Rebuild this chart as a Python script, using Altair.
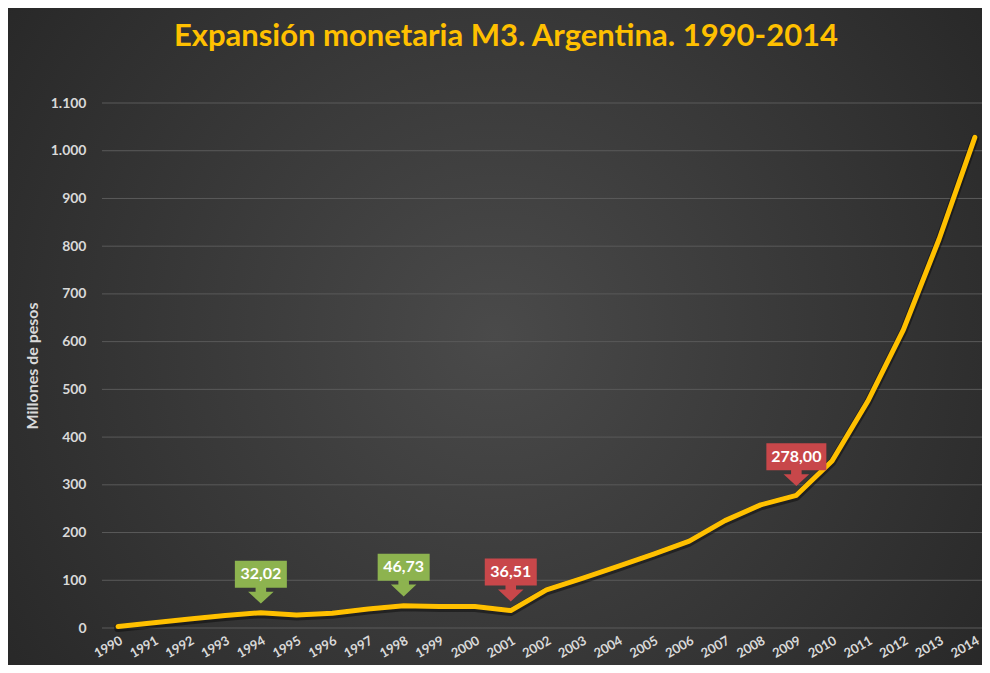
import altair as alt
import pandas as pd

# ---- data ----
years = [1990, 1991, 1992, 1993, 1994, 1995, 1996, 1997, 1998, 1999, 2000, 2001,
         2002, 2003, 2004, 2005, 2006, 2007, 2008, 2009, 2010, 2011, 2012, 2013, 2014]
m3 = [3, 11, 19, 26, 32.02, 27, 31, 40, 46.73, 45, 45, 36.51,
      80, 104, 129, 155, 182, 225, 258, 278.00, 350, 475, 625, 815, 1028]

callout_years = [1994, 1998, 2001, 2009]
callout_labels = ["32,02", "46,73", "36,51", "278,00"]
callout_kind = ["sube", "sube", "baja", "baja"]

y_ticks = [0, 100, 200, 300, 400, 500, 600, 700, 800, 900, 1000, 1100]

df = pd.DataFrame({"year": years, "m3": m3})
cdf = pd.DataFrame({"year": callout_years, "label": callout_labels, "kind": callout_kind})
cdf = cdf.merge(df, on="year", how="left")
gdf = pd.DataFrame({"m3": y_ticks})

FONT = "Lato"
LABEL_COL = "#d9d9d9"

xscale = alt.Scale(domain=[1989.55, 2014.2], nice=False, zero=False)
yscale = alt.Scale(domain=[0, 1100], nice=False)

x_axis = alt.Axis(values=years, format="d", labelAngle=-30, labelAlign="right",
                  labelBaseline="top", labelPadding=6, ticks=False, domain=False,
                  grid=False, labelOverlap=False, labelFont=FONT, labelFontSize=13,
                  labelFontWeight="bold", labelColor=LABEL_COL, zindex=1)
y_axis = alt.Axis(values=y_ticks,
                  labelExpr="replace(format(datum.value, ','), ',', '.')",
                  labelFont=FONT, labelFontSize=14, labelFontWeight="bold",
                  labelColor=LABEL_COL, labelPadding=16, ticks=False, domain=False,
                  grid=False, zindex=1,
                  titleFont=FONT, titleFontSize=16, titleFontWeight="bold",
                  titleColor=LABEL_COL, titlePadding=10)
x_enc = alt.X("year:Q", scale=xscale, axis=x_axis, title=None)
y_enc = alt.Y("m3:Q", scale=yscale, axis=y_axis, title="Millones de pesos")

# background: radial gradient spanning the whole chart area
bg = alt.Chart(pd.DataFrame({"a": [0]})).mark_rect(
    fill=alt.RadialGradient(gradient="radial", x1=0.5, y1=0.5, r1=0, x2=0.5, y2=0.5, r2=0.72,
                            stops=[alt.GradientStop(offset=0, color="#4a4a4a"),
                                   alt.GradientStop(offset=1, color="#222222")])
).encode(x=alt.value(-94), x2=alt.value(880), y=alt.value(-95), y2=alt.value(562))

grid = alt.Chart(gdf).mark_rule(color="#5a5a5a", strokeWidth=1).encode(
    y=y_enc, x=alt.value(0), x2=alt.value("width"))

base = alt.Chart(df)

shadow = base.mark_line(color="#000000", opacity=0.4, strokeWidth=8, yOffset=1.5,
                        strokeCap="round", strokeJoin="round").encode(x=x_enc, y=y_enc)
line = base.mark_line(color="#FFC000", strokeWidth=5, strokeCap="round",
                      strokeJoin="round").encode(x=x_enc, y=y_enc)

color_enc = alt.Color("kind:N", scale=alt.Scale(domain=["sube", "baja"],
                                                 range=["#8DB34F", "#C8474A"]), legend=None)

cbase = alt.Chart(cdf)
arrow_path = ("M-0.6,-1 L0.6,-1 L0.6,-0.35 L1.45,-0.35 L0,1 L-1.45,-0.35 "
              "L-0.6,-0.35 Z")
arrows = cbase.mark_point(shape=arrow_path, filled=True, opacity=1, size=310,
                          yOffset=-18, strokeWidth=0).encode(
    x=x_enc, y=y_enc, color=color_enc)
boxes_small = cbase.transform_filter("length(datum.label) <= 5").mark_rect(
    width=52, height=27, yOffset=-38.5, opacity=1).encode(
    x=x_enc, y=y_enc, color=color_enc)
boxes_wide = cbase.transform_filter("length(datum.label) > 5").mark_rect(
    width=60, height=27, yOffset=-38.5, opacity=1).encode(
    x=x_enc, y=y_enc, color=color_enc)
texts = cbase.mark_text(font=FONT, fontSize=16, fontWeight="bold", color="#ffffff",
                        baseline="middle", align="center", yOffset=-38.5).encode(
    x=x_enc, y=y_enc, text="label:N")

chart = alt.layer(bg, grid, shadow, line, arrows, boxes_small, boxes_wide, texts).properties(
    width=880, height=525,
    autosize=alt.AutoSizeParams(type="none"),
    padding={"left": 94, "top": 95, "right": 0, "bottom": 37},
    background="#2b2b2b",
    title=alt.TitleParams("Expansión monetaria M3. Argentina. 1990-2014",
                          font=FONT, fontSize=31, fontWeight="bold", color="#FFC000",
                          anchor="middle", dx=-36, offset=-69, baseline="alphabetic",
                          zindex=1),
).configure_view(strokeWidth=0)

chart.save("out.html", embed_options={"renderer": "svg", "actions": False})
